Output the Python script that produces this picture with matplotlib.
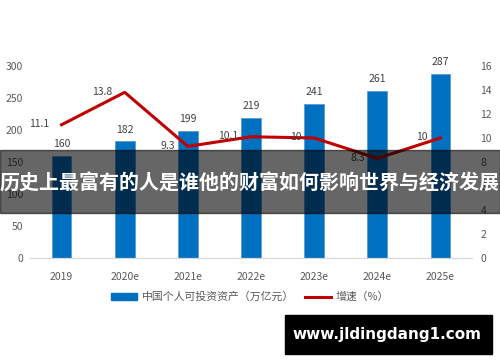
import matplotlib
matplotlib.use("Agg")
import matplotlib.pyplot as plt
from matplotlib.patches import Rectangle
from matplotlib.lines import Line2D

plt.rcParams['font.family'] = ['Noto Sans CJK SC', 'DejaVu Sans']

categories = ["2019", "2020e", "2021e", "2022e", "2023e", "2024e", "2025e"]
assets = [160, 182, 199, 219, 241, 261, 287]
growth = [11.1, 13.8, 9.3, 10.1, 10, 8.3, 10]
growth_labels = ["11.1", "13.8", "9.3", "10.1", "10", "8.3", "10"]
left_ticks = [0, 50, 100, 150, 200, 250, 300]
right_ticks = [0, 2, 4, 6, 8, 10, 12, 14, 16]
legend_labels = ["中国个人可投资资产（万亿元）", "增速（%）"]
banner_text = "历史上最富有的人是谁他的财富如何影响世界与经济发展"
watermark = "www.jldingdang1.com"

fig = plt.figure(figsize=(5, 3.62), dpi=100)
ax = fig.add_axes([0.06, 0.287, 0.884, 0.531])
ax2 = ax.twinx()

x = list(range(len(categories)))
tick_color = "#595959"
ax.bar(x, assets, width=0.31, color="#0070C0", edgecolor="#5B9BD5", linewidth=0.6, zorder=2)
for xi, v in zip(x, assets):
    ax.annotate(str(v), (xi, v), xytext=(0, 5), textcoords="offset points",
                ha="center", va="bottom", fontsize=7.5, color="#404040")
ax.set_ylim(0, 300)
ax.set_xlim(-0.5, len(categories) - 0.5)
ax.set_yticks(left_ticks)
ax.set_xticks(x)
ax.set_xticklabels(categories)

ax2.plot(x, growth, color="#C00000", linewidth=2.2, zorder=3)
for xi, v, lab in zip(x, growth, growth_labels):
    ax2.annotate(lab, (xi, v), xytext=(-9, 0.5), textcoords="offset points",
                 ha="right", va="center", fontsize=7.5, color="#404040")
ax2.set_ylim(0, 16)
ax2.set_yticks(right_ticks)

for a in (ax, ax2):
    for s in ("top", "left", "right"):
        a.spines[s].set_visible(False)
    a.spines["bottom"].set_color("#D9D9D9")
    a.tick_params(length=0, labelsize=7.5, colors=tick_color)
ax.tick_params(axis="x", pad=10)
ax.tick_params(axis="y", pad=5)
ax2.tick_params(axis="y", pad=6)

handles = [Rectangle((0, 0), 1, 1, color="#0070C0"),
           Line2D([0], [0], color="#C00000", linewidth=2.2)]
fig.legend(handles, legend_labels, loc="center", bbox_to_anchor=(0.5, 1 - 297 / 362),
           ncol=2, frameon=False, fontsize=7.8, labelcolor=tick_color,
           handlelength=2.4, handleheight=0.6, columnspacing=1.0, handletextpad=0.4)

# banner overlay
fig.patches.append(Rectangle((0, 1 - 213 / 362), 1, 63 / 362, transform=fig.transFigure,
                             color="black", alpha=0.6, zorder=10))
fig.text(0.5, 1 - 183 / 362, banner_text, ha="center", va="center", color="white",
         fontsize=14.4, fontweight="bold", zorder=11)

# watermark
fig.patches.append(Rectangle((285 / 500, 1 - 354 / 362), 207 / 500, 39 / 362,
                             transform=fig.transFigure, color="black", zorder=10))
fig.text(387 / 500, 1 - 335 / 362, watermark, ha="center", va="center", color="white",
         fontsize=11, fontweight="bold", family=["DejaVu Sans"], zorder=11)

fig.savefig("out.png", dpi=100)
